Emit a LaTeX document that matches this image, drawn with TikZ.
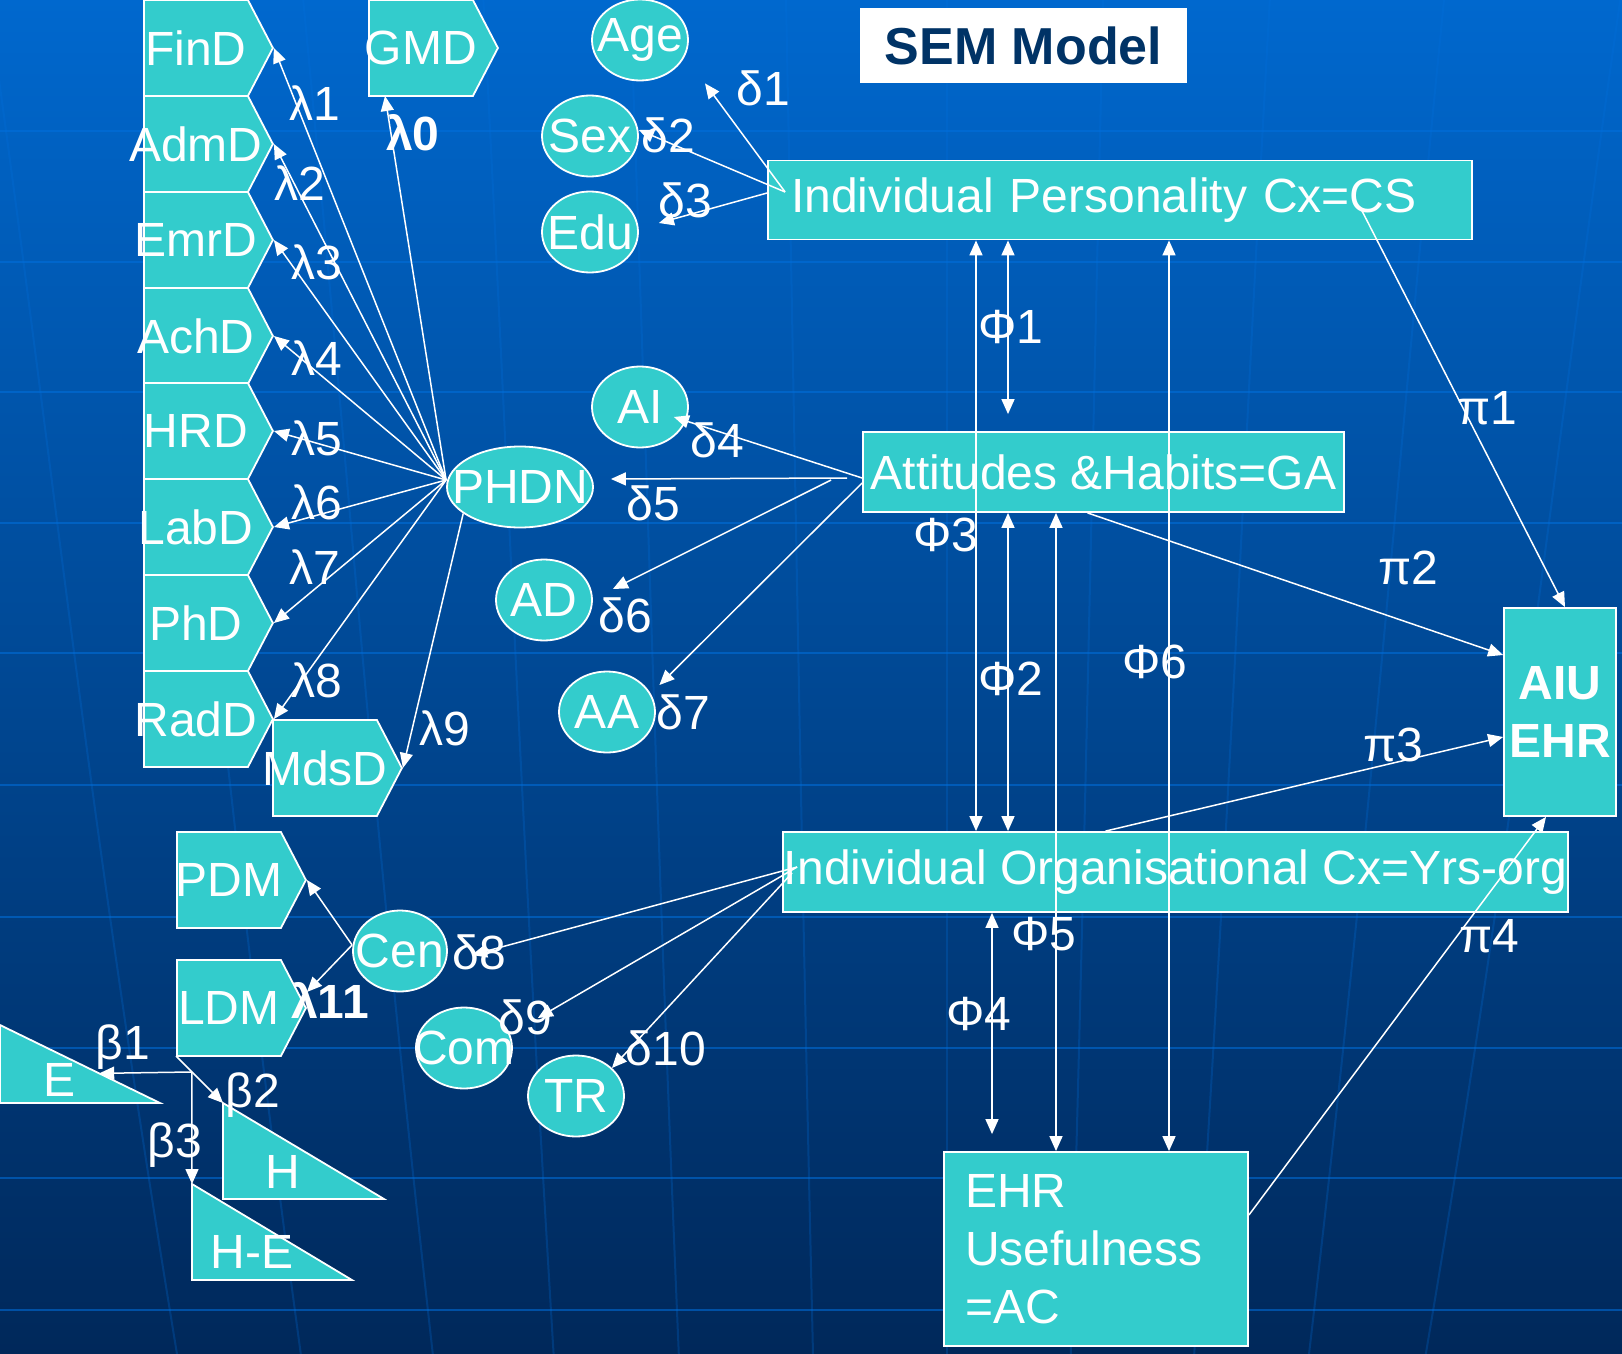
\documentclass[tikz,border=0pt]{standalone}
\usepackage{fontspec}
\setmainfont{Liberation Sans}
\usetikzlibrary{arrows.meta, positioning, calc, shapes.geometric, shapes.symbols}
\definecolor{semteal}{RGB}{51,204,204}
\definecolor{bgtop}{RGB}{0,104,206}
\definecolor{bgmid}{RGB}{0,82,164}
\definecolor{bgbot}{RGB}{0,40,90}
\definecolor{gridblue}{RGB}{0,112,222}
\definecolor{titlenavy}{RGB}{0,51,102}
\newcommand{\semfont}{\fontsize{24}{29}\selectfont}
\tikzset{
    % white text inside the teal shapes and for the coefficients
    txt/.style={text=white, font=\semfont, inner sep=0pt},
    % arrow-shaped boxes for the departments
    dbox/.style={signal, signal to=east, signal from=nowhere, signal pointer angle=125,
        draw=white, line width=0.9pt, fill=semteal, minimum width=64.5pt,
        minimum height=48pt, inner sep=0pt, anchor=west, label={[txt]center:#1}},
    % ellipses for the indicators
    ind/.style={ellipse, draw=white, line width=0.9pt, fill=semteal,
        minimum width=48pt, minimum height=40.5pt, inner sep=0pt, label={[txt]center:#1}},
    % construct boxes
    cbox/.style={rectangle, draw=white, line width=0.9pt, fill=semteal, inner sep=0pt,
        text=white, font=\semfont, minimum height=40pt},
    % right-angled triangles
    tri/.style={draw=white, line width=0.9pt, fill=semteal},
    % directed edges
    edge/.style={-{Triangle[length=7.5pt, width=6.5pt]}, white, line width=0.75pt},
    dbl/.style={{Triangle[length=7.5pt, width=6.5pt]}-{Triangle[length=7.5pt, width=6.5pt]},
        white, line width=0.75pt},
    % coefficient labels
    coef/.style={txt},
    bcoef/.style={txt, font=\semfont\bfseries},
}

\begin{document}
\begin{tikzpicture}[x=0.5pt, y=-0.5pt]
    \useasboundingbox (0,0) rectangle (1622,1354);

    % ---- background with globe grid ----
    \shade[top color=bgtop, middle color=bgmid, bottom color=bgbot] (0,0) rectangle (1622,1354);
    \foreach \y in {131,262,392,523,653,785,917,1048,1178,1310}
        \draw[gridblue, opacity=0.55, line width=1.2pt] (0,\y) -- (1622,\y);
    \foreach \x/\s in {100/70,237/58,380/48,525/26,659/18,802/10,947/0,1084/-12,1225/-28,1364/-50,1505/-72}
        \draw[gridblue, opacity=0.25, line width=1pt]
            ({\x-1.6*(\s)},0) .. controls ({\x-0.6*(\s)},500) and ({\x-0.2*(\s)},800) .. ({\x+1.1*(\s)},1354);

    % ---- PHDN departments ----
    \node[dbox=FinD] (find) at (143,48)  {};
    \node[dbox=AdmD] (admd) at (143,144) {};
    \node[dbox=EmrD] (emrd) at (143,240) {};
    \node[dbox=AchD] (achd) at (143,336) {};
    \node[dbox=HRD]  (hrd)  at (143,431) {};
    \node[dbox=LabD] (labd) at (143,527) {};
    \node[dbox=PhD]  (phd)  at (143,623) {};
    \node[dbox=RadD] (radd) at (143,719) {};
    \node[dbox=MdsD] (mdsd) at (272,768) {};
    \node[dbox=GMD]  (gmd)  at (368,48)  {};
    \node[dbox=PDM]  (pdm)  at (176,880) {};
    \node[dbox=LDM, every label/.append style={xshift=8pt}] (ldm) at (176,1008) {};

    % ---- indicators ----
    \node[ind=Age] (age) at (640,40)  {};
    \node[ind=Sex] (sex) at (590,136) {};
    \node[ind=Edu] (edu) at (590,232) {};
    \node[ind=AI]  (ai)  at (640,407) {};
    \node[ind=PHDN, minimum width=73pt] (phdn) at (520,487) {};
    \node[ind=AD]  (ad)  at (544,600) {};
    \node[ind=AA]  (aa)  at (607,712) {};
    \node[ind=Cen, minimum width=47pt] (cen) at (400,951) {};
    \node[ind=Com] (com) at (464,1048) {};
    \node[ind=TR]  (tr)  at (576,1096) {};

    % ---- E, H, H-E ----
    \draw[tri] (0,1025) coordinate (eTop) -- (0,1103) -- (160,1103) coordinate (eTip) -- cycle;
    \node[txt] (e) at (60,1080) {E};
    \draw[tri] (223,1103) coordinate (hTop) -- (223,1199) -- (384,1199) -- cycle;
    \node[txt] (h) at (283,1172) {H};
    \draw[tri] (192,1184) coordinate (heTop) -- (192,1280) -- (352,1280) -- cycle;
    \node[txt] (he) at (252,1252) {H-E};

    % ---- constructs ----
    \node[cbox, minimum width=352pt, text width=329pt, align=left, inner xsep=11.5pt,
          minimum height=39.5pt] (ipc) at (1120,200) {Individual Personality Cx=CS};
    \node[cbox, minimum width=240.5pt] (ah) at (1103.5,472) {Attitudes \&Habits=GA};
    \node[cbox, minimum width=392.5pt] (ioc) at (1175.5,872) {Individual Organisational Cx=Yrs-org};
    \node[cbox, minimum width=152pt, minimum height=97pt, text width=131pt, inner xsep=10.5pt,
          align=left] (eu) at (1096,1249) {EHR\\Usefulness\\=AC};
    \node[cbox, minimum width=56pt, minimum height=104pt, align=center,
          font=\semfont\bfseries] (aiu) at (1560,712) {AIU\\EHR};
    \node[fill=white, minimum width=163.5pt, minimum height=37.5pt, text=titlenavy,
          font=\fontsize{26}{30}\selectfont\bfseries] (title) at (1023.5,45.5) {SEM Model};

    % ---- loadings of PHDN ----
    \coordinate (hub) at ([yshift=3.5pt]phdn.west);
    \foreach \d in {find,admd,emrd,achd,hrd,labd,phd,radd}
        \draw[edge] (hub) -- (\d.east);
    \draw[edge] (phdn.205) -- (mdsd.east);
    \draw[edge] (hub) -- ([xshift=8.5pt, yshift=-24pt]gmd.west);

    % ---- personality indicators ----
    \coordinate (ipcIn) at ([xshift=9pt, yshift=4pt]ipc.west);
    \draw[edge] (ipcIn) -- ([xshift=32.5pt, yshift=-1pt]age.south);
    \draw[edge] (ipcIn) -- ([yshift=3pt]sex.east);
    \draw[edge] ([yshift=3.5pt]ipc.west) -- ([xshift=10pt, yshift=4.5pt]edu.east);

    % ---- attitude indicators ----
    \coordinate (ahIn) at ([yshift=-3pt]ah.west);
    \draw[edge] (ahIn) -- ([xshift=-7.5pt, yshift=-5pt]ai.east);
    \draw[edge] ([xshift=-7.5pt]ahIn) -- ([xshift=8.5pt, yshift=4pt]phdn.east);
    \draw[edge] ([xshift=-15.5pt, yshift=-1pt]ahIn) -- ([xshift=10pt, yshift=5.5pt]ad.east);
    \draw[edge] ([yshift=-2.5pt]ahIn) -- ([xshift=1.75pt, yshift=13.5pt]aa.east);

    % ---- organisational indicators ----
    \coordinate (iocIn) at ([xshift=7.5pt, yshift=2.5pt]ioc.west);
    \draw[edge] (iocIn) -- ([xshift=12pt, yshift=-2pt]cen.east);
    \draw[edge] (iocIn) -- ([xshift=12.5pt, yshift=15pt]com.east);
    \draw[edge] ([xshift=5pt, yshift=-0.5pt]ioc.west) -- ([xshift=-6.5pt, yshift=14pt]tr.east);

    % ---- Cen to PDM / LDM ----
    \draw[edge] ([yshift=3pt]cen.west) -- (pdm.east);
    \draw[edge] ([yshift=3pt]cen.west) -- ([yshift=8pt]ldm.east);

    % ---- LDM to E, H, H-E ----
    \coordinate (bj) at ($([yshift=-24pt]ldm.west)!0.34!(hTop)$);
    \draw[edge] ([yshift=-24pt]ldm.west) -- (hTop);
    \draw[edge] (bj) -- ($(eTop)!0.62!(eTip)$);
    \draw[edge] (bj) -- (heTop);

    % ---- correlations between constructs ----
    \coordinate (colA) at (976,0);
    \coordinate (colB) at (1008,0);
    \coordinate (colC) at (1169,0);
    \coordinate (colD) at (1056,0);
    \coordinate (colE) at (992,0);
    \draw[dbl] (colA |- ipc.south) -- (colA |- ioc.north);
    \draw[dbl] (colB |- ipc.south) -- ($(colB |- ah.north)+(0,-17)$);
    \draw[dbl] (colB |- ah.south) -- (colB |- ioc.north);
    \draw[dbl] (colC |- ipc.south) -- (colC |- eu.north);
    \draw[dbl] (colD |- ah.south) -- (colD |- eu.north);
    \draw[dbl] (colE |- ioc.south) -- ($(colE |- eu.north)+(0,-17)$);

    % ---- paths into AIU EHR ----
    \draw[edge] ([xshift=120pt, yshift=-3.5pt]ipc.center) -- ([xshift=2.5pt]aiu.north);
    \draw[edge] ([xshift=-8pt]ah.south) -- ([yshift=28.5pt]aiu.west);
    \draw[edge] ([xshift=-35pt]ioc.north) -- ([yshift=-12.5pt]aiu.west);
    \draw[edge] ([yshift=17pt]eu.east) -- ([xshift=-7pt]aiu.south);

    % ---- coefficients ----
    \node[bcoef] at (413,133) {λ0};
    \node[coef] at (315,103) {λ1};
    \node[coef] at (300,183) {λ2};
    \node[coef] at (317,262) {λ3};
    \node[coef] at (317,358) {λ4};
    \node[coef] at (317,438) {λ5};
    \node[coef] at (317,502) {λ6};
    \node[coef] at (315,567) {λ7};
    \node[coef] at (317,680) {λ8};
    \node[coef] at (445,728) {λ9};
    \node[bcoef] at (330,1000) {λ11};

    \node[coef] at (763,88)   {δ1};
    \node[coef] at (668,135)  {δ2};
    \node[coef] at (685,200)  {δ3};
    \node[coef] at (717,440)  {δ4};
    \node[coef] at (653,503)  {δ5};
    \node[coef] at (625,615)  {δ6};
    \node[coef] at (683,712)  {δ7};
    \node[coef] at (479,952)  {δ8};
    \node[coef] at (525,1017) {δ9};
    \node[coef] at (666,1048) {δ10};

    \node[coef] at (1011,327) {Φ1};
    \node[coef] at (1011,679) {Φ2};
    \node[coef] at (946,535)  {Φ3};
    \node[coef] at (979,1014) {Φ4};
    \node[coef] at (1044,934) {Φ5};
    \node[coef] at (1155,662) {Φ6};

    \node[coef] at (1487,408) {π1};
    \node[coef] at (1408,568) {π2};
    \node[coef] at (1393,745) {π3};
    \node[coef] at (1489,936) {π4};

    \node[coef] at (123,1047) {β1};
    \node[coef] at (253,1095) {β2};
    \node[coef] at (175,1145) {β3};

\end{tikzpicture}
\end{document}
